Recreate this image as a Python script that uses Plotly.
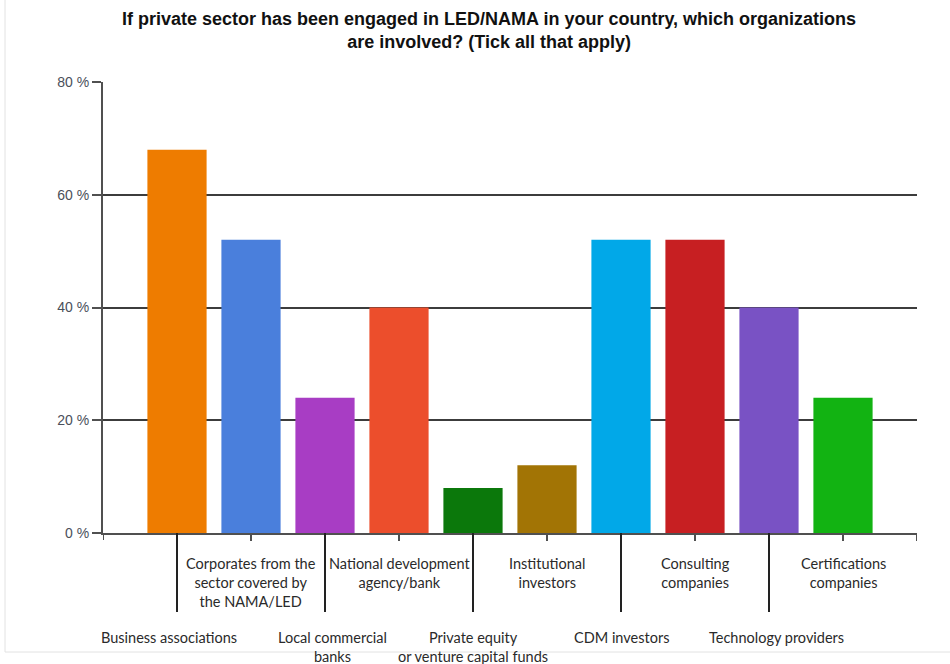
import plotly.graph_objects as go

categories = [
    "Business associations",
    "Corporates from the<br>sector covered by<br>the NAMA/LED",
    "Local commercial<br>banks",
    "National development<br>agency/bank",
    "Private equity<br>or venture capital funds",
    "Institutional<br>investors",
    "CDM investors",
    "Consulting<br>companies",
    "Technology providers",
    "Certifications<br>companies",
]
values = [68, 52, 24, 40, 8, 12, 52, 52, 40, 24]
colors = ["#EE7C00", "#4A7FDC", "#A83DC4", "#EC4E2C", "#0B780B",
          "#A27405", "#01A8E8", "#C71F22", "#7952C4", "#12B312"]
y_ticks = [0, 20, 40, 60, 80]
y_ticktext = ["0 %", "20 %", "40 %", "60 %", "80 %"]
title_text = ("If private sector has been engaged in LED/NAMA in your country, which organizations"
              "<br>are involved? (Tick all that apply)")

W, H = 950, 664
L, R, T, B = 103, 33, 82, 131
ph = H - T - B
pw = W - L - R

xs = list(range(len(categories)))
label_xshift = {0: -8, 2: 7, 8: 7}

fig = go.Figure()
fig.add_trace(go.Bar(
    x=xs, y=values, marker=dict(color=colors, line=dict(width=0)),
    width=0.8, showlegend=False, hoverinfo="skip",
))

axis_col = "#505050"
shapes = []
for i in xs + [len(categories)]:
    long = (i % 2 == 0) and i < len(categories)
    shapes.append(dict(type="line", xref="x", yref="paper", x0=i, x1=i,
                       y0=0, y1=-(79 if long else 8) / ph,
                       line=dict(color="#222" if long else axis_col, width=2)))
shapes.append(dict(type="line", xref="x", yref="paper", x0=-1, x1=-1,
                   y0=0, y1=-7 / ph, line=dict(color=axis_col, width=2)))
shapes.append(dict(type="line", xref="paper", yref="paper",
                   x0=(5 - L) / pw, x1=(5 - L) / pw, y0=(H - B) / ph, y1=-(652 - (H - B)) / ph,
                   line=dict(color="#e2e2e2", width=1)))
shapes.append(dict(type="line", xref="paper", yref="paper",
                   x0=(5 - L) / pw, x1=(W - L) / pw, y0=-(652 - (H - B)) / ph, y1=-(652 - (H - B)) / ph,
                   line=dict(color="#e2e2e2", width=1)))

annotations = []
for i, c in enumerate(categories):
    upper = (i % 2 == 1)
    ytop = 553 if upper else 627
    annotations.append(dict(
        x=i, xref="x", y=-(ytop - (H - B)) / ph, yref="paper",
        yanchor="top", xanchor="center", text=c, showarrow=False,
        xshift=label_xshift.get(i, 0),
        font=dict(family="Lato, Open Sans, sans-serif", size=14.5, color="#2a2a2a"),
        align="center",
    ))
annotations.append(dict(
    x=(489 - L) / pw, xref="paper", y=(H - 7 - B) / ph,
    yref="paper", xanchor="center", yanchor="top", showarrow=False,
    text="<b>" + title_text + "</b>", align="center",
    font=dict(family="Liberation Sans, Arial, sans-serif", size=18, color="#111"),
))

fig.update_layout(
    width=W, height=H,
    margin=dict(l=L, r=R, t=T, b=B, autoexpand=False),
    paper_bgcolor="white", plot_bgcolor="white",
    xaxis=dict(range=[-1, len(categories)], showticklabels=False, ticks="",
               showgrid=False, zeroline=False, showline=True,
               linecolor=axis_col, linewidth=2, fixedrange=True),
    yaxis=dict(range=[0, 80], tickvals=y_ticks, ticktext=y_ticktext,
               ticks="outside", ticklen=9, tickwidth=2, tickcolor=axis_col,
               showgrid=True, gridcolor="#3c3c3c", gridwidth=1.5,
               zeroline=False, showline=True, linecolor=axis_col, linewidth=2,
               tickfont=dict(family="Liberation Sans, Arial, sans-serif", size=14, color="#4a4f5a"),
               fixedrange=True),
    shapes=shapes, annotations=annotations,
    bargap=0.2,
)

fig.write_html("out.html")
